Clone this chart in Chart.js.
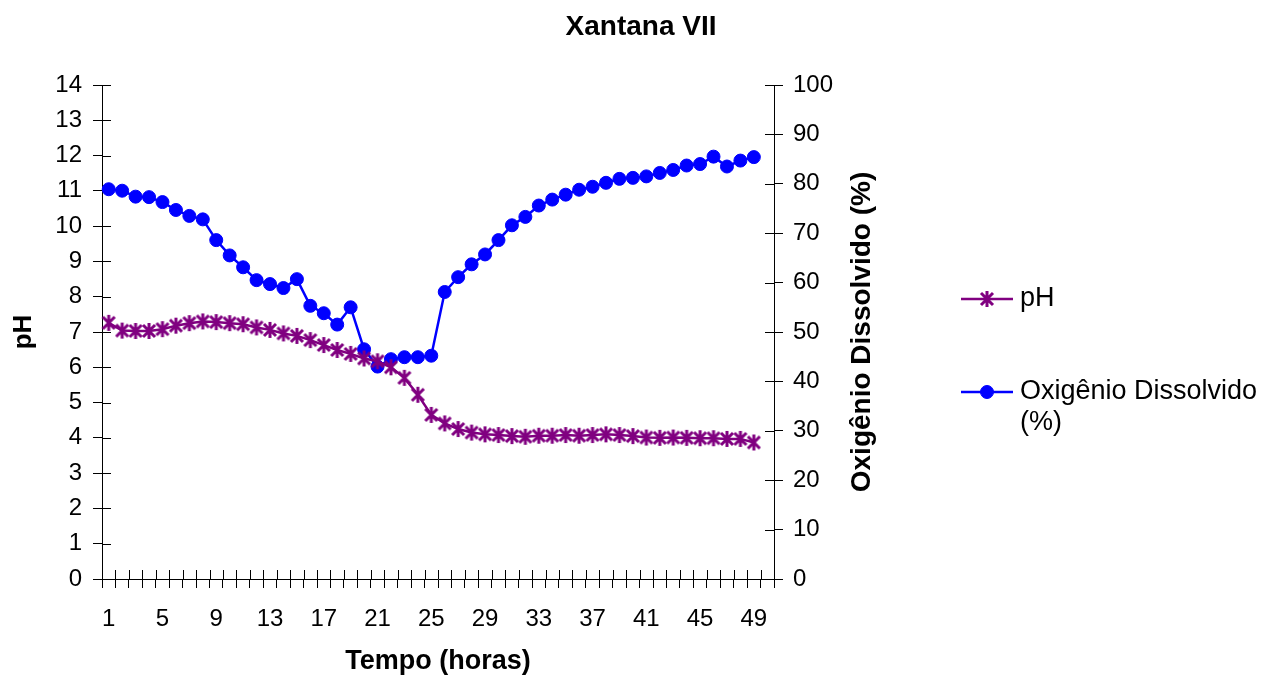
<!DOCTYPE html>
<html>
<head>
<meta charset="utf-8">
<script src="https://cdn.jsdelivr.net/npm/chart.js@4/dist/chart.umd.min.js"></script>
<style>
  html, body { margin: 0; padding: 0; background: #fff; }
  #wrap { width: 1278px; height: 680px; }
</style>
</head>
<body>
<div id="wrap"><canvas id="chart" width="1278" height="680"></canvas></div>
<script>
const hours = [1, 2, 3, 4, 5, 6, 7, 8, 9, 10, 11, 12, 13, 14, 15, 16, 17, 18, 19, 20,
               21, 22, 23, 24, 25, 26, 27, 28, 29, 30, 31, 32, 33, 34, 35, 36, 37, 38, 39, 40,
               41, 42, 43, 44, 45, 46, 47, 48, 49, 50];

const phValues = [7.26, 7.04, 7.03, 7.03, 7.08, 7.18, 7.25, 7.30, 7.28, 7.25,
                  7.22, 7.13, 7.06, 6.96, 6.89, 6.77, 6.63, 6.49, 6.38, 6.25,
                  6.17, 6.00, 5.70, 5.22, 4.65, 4.41, 4.25, 4.15, 4.10, 4.08,
                  4.05, 4.03, 4.06, 4.06, 4.08, 4.06, 4.08, 4.10, 4.08, 4.05,
                  4.01, 4.00, 4.01, 4.00, 3.99, 3.99, 3.97, 3.97, 3.87, null];

const oxygenValues = [78.9, 78.6, 77.4, 77.3, 76.3, 74.7, 73.5, 72.8, 68.6, 65.5,
                      63.1, 60.5, 59.7, 58.9, 60.7, 55.3, 53.8, 51.5, 55.0, 46.5,
                      43.0, 44.5, 44.9, 44.9, 45.2, 58.1, 61.1, 63.7, 65.7, 68.6,
                      71.6, 73.3, 75.6, 76.8, 77.8, 78.8, 79.4, 80.2, 81.0, 81.2,
                      81.5, 82.2, 82.8, 83.7, 84.0, 85.5, 83.5, 84.7, 85.4, null];

const phAxis = { min: 0, max: 14, step: 1 };
const oxygenAxis = { min: 0, max: 100, step: 10 };

const FONT = "'Liberation Sans', Arial, sans-serif";
Chart.defaults.font.family = FONT;
Chart.defaults.color = '#000';

// Excel-like star marker: an X with a vertical bar
function makeStar(color) {
    const c = document.createElement('canvas');
    c.width = 18;
    c.height = 18;
    const g = c.getContext('2d');
    g.strokeStyle = color;
    g.lineWidth = 3;
    g.beginPath();
    g.moveTo(3, 3); g.lineTo(15, 15);
    g.moveTo(15, 3); g.lineTo(3, 15);
    g.moveTo(9, 1); g.lineTo(9, 17);
    g.stroke();
    return c;
}
const phStar = makeStar('#800080');

// Tick marks that cross into the plot area (Excel style)
const innerTicks = {
    id: 'innerTicks',
    beforeDatasetsDraw(chart) {
        const ctx = chart.ctx;
        const { x, y, y1 } = chart.scales;
        const len = 9;
        ctx.save();
        ctx.strokeStyle = '#000';
        ctx.lineWidth = 1;
        ctx.beginPath();
        for (let v = phAxis.min; v <= phAxis.max; v += phAxis.step) {
            const py = Math.round(y.getPixelForValue(v)) + 0.5;
            ctx.moveTo(y.right, py);
            ctx.lineTo(y.right + len, py);
        }
        for (let v = oxygenAxis.min; v <= oxygenAxis.max; v += oxygenAxis.step) {
            const py = Math.round(y1.getPixelForValue(v)) + 0.5;
            ctx.moveTo(y1.left, py);
            ctx.lineTo(y1.left - len, py);
        }
        for (let i = 0; i <= hours.length; i++) {
            const px = Math.round(x.getPixelForValue(i - 0.5)) + 0.5;
            ctx.moveTo(px, x.top);
            ctx.lineTo(px, x.top - len);
        }
        ctx.stroke();
        ctx.restore();
    }
};

// Chart title, right axis title and legend
const extraText = {
    id: 'extraText',
    afterDraw(chart) {
        const ctx = chart.ctx;
        const area = chart.chartArea;
        ctx.save();
        ctx.fillStyle = '#000';
        ctx.textBaseline = 'middle';

        ctx.font = 'bold 28px ' + FONT;
        ctx.textAlign = 'center';
        ctx.fillText('Xantana VII', 641, 27);

        ctx.save();
        ctx.translate(862, (area.top + area.bottom) / 2);
        ctx.rotate(-Math.PI / 2);
        ctx.font = 'bold 28px ' + FONT;
        ctx.fillText('Oxigênio Dissolvido (%)', 0, 0);
        ctx.restore();

        // legend
        const rows = [299, 392];
        ctx.textAlign = 'left';
        ctx.font = '27px ' + FONT;
        chart.data.datasets.forEach((ds, i) => {
            const ly = rows[i];
            ctx.strokeStyle = ds.borderColor;
            ctx.lineWidth = 2.5;
            ctx.beginPath();
            ctx.moveTo(961, ly);
            ctx.lineTo(1013, ly);
            ctx.stroke();
            ctx.fillStyle = ds.pointBackgroundColor;
            ctx.strokeStyle = ds.pointBorderColor;
            ctx.lineWidth = ds.pointBorderWidth;
            Chart.helpers.drawPoint(ctx, { pointStyle: ds.pointStyle, radius: ds.pointRadius, rotation: 0, borderWidth: ds.pointBorderWidth }, 987, ly);
            ctx.fillStyle = '#000';
            ds.legendLines.forEach((t, k) => ctx.fillText(t, 1020, ly + k * 31));
        });
        ctx.restore();
    }
};

new Chart(document.getElementById('chart'), {
    type: 'line',
    data: {
        labels: hours,
        datasets: [
            {
                label: 'pH',
                legendLines: ['pH'],
                data: phValues,
                yAxisID: 'y',
                borderColor: '#800080',
                borderWidth: 2.5,
                pointStyle: phStar,
                pointRadius: 7,
                pointBorderWidth: 2.5,
                pointBackgroundColor: '#800080',
                pointBorderColor: '#800080',
                tension: 0
            },
            {
                label: 'Oxigênio Dissolvido (%)',
                legendLines: ['Oxigênio Dissolvido', '(%)'],
                data: oxygenValues,
                yAxisID: 'y1',
                borderColor: '#0000ff',
                borderWidth: 2.5,
                pointStyle: 'circle',
                pointRadius: 6.5,
                pointBorderWidth: 1,
                pointBackgroundColor: '#0000ff',
                pointBorderColor: '#0000ff',
                tension: 0
            }
        ]
    },
    options: {
        responsive: false,
        animation: false,
        layout: { padding: { left: 0, top: 85, right: 404, bottom: 0 } },
        plugins: {
            legend: { display: false },
            title: { display: false },
            tooltip: { enabled: false }
        },
        scales: {
            x: {
                offset: true,
                grid: { offset: true, drawOnChartArea: false, tickLength: 9, color: '#000' },
                border: { color: '#000' },
                ticks: {
                    autoSkip: false,
                    maxRotation: 0,
                    padding: 17,
                    font: { size: 24 },
                    callback: function (value, index) {
                        return index % 4 === 0 ? String(hours[index]) : '';
                    }
                },
                title: {
                    display: true,
                    text: 'Tempo (horas)',
                    font: { size: 27, weight: 'bold' },
                    padding: { top: 0, bottom: 2 }
                },
                afterFit(scale) { scale.height = 101; }
            },
            y: {
                position: 'left',
                min: phAxis.min,
                max: phAxis.max,
                grid: { drawOnChartArea: false, tickLength: 9, color: '#000' },
                border: { color: '#000' },
                ticks: { stepSize: phAxis.step, padding: 11, font: { size: 24 } },
                title: {
                    display: true,
                    text: 'pH',
                    font: { size: 26, weight: 'bold' },
                    padding: { top: 8, bottom: 0 }
                },
                afterFit(scale) { scale.width = 102; }
            },
            y1: {
                position: 'right',
                min: oxygenAxis.min,
                max: oxygenAxis.max,
                grid: { drawOnChartArea: false, tickLength: 9, color: '#000' },
                border: { color: '#000' },
                ticks: { stepSize: oxygenAxis.step, padding: 10, font: { size: 24 } },
                afterFit(scale) { scale.width = 100; }
            }
        }
    },
    plugins: [innerTicks, extraText]
});
</script>
</body>
</html>
